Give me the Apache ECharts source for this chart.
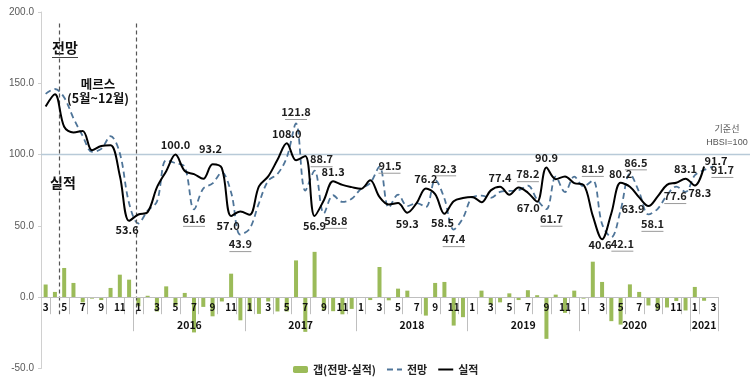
<!DOCTYPE html>
<html><head><meta charset="utf-8">
<script src="https://cdn.jsdelivr.net/npm/echarts@6/dist/echarts.min.js"></script>
<style>html,body{margin:0;padding:0;background:#fff}#c{width:750px;height:379px}</style>
</head><body><div id="c"></div>
<script>
const categories = ['2015-03','2015-04','2015-05','2015-06','2015-07','2015-08','2015-09','2015-10','2015-11','2015-12',
'2016-01','2016-02','2016-03','2016-04','2016-05','2016-06','2016-07','2016-08','2016-09','2016-10','2016-11','2016-12',
'2017-01','2017-02','2017-03','2017-04','2017-05','2017-06','2017-07','2017-08','2017-09','2017-10','2017-11','2017-12',
'2018-01','2018-02','2018-03','2018-04','2018-05','2018-06','2018-07','2018-08','2018-09','2018-10','2018-11','2018-12',
'2019-01','2019-02','2019-03','2019-04','2019-05','2019-06','2019-07','2019-08','2019-09','2019-10','2019-11','2019-12',
'2020-01','2020-02','2020-03','2020-04','2020-05','2020-06','2020-07','2020-08','2020-09','2020-10','2020-11','2020-12',
'2021-01','2021-02','2021-03'];
// 실적
const actual = [133.7,142.3,119.5,115.5,116.6,103.0,106.0,106.5,85.2,53.6,
58.0,59.7,77.0,88.4,100.0,88.5,86.3,83.0,93.2,90.5,57.0,60.1,
57.8,77.7,84.7,96.4,108.0,96.0,99.0,56.9,68.0,81.3,78.8,77.2,
76.0,82.0,70.3,65.0,66.0,59.3,66.0,76.2,72.3,58.5,67.3,69.5,
70.3,66.6,74.9,77.4,71.8,77.0,73.3,67.0,90.9,82.8,84.7,80.0,
78.8,57.0,40.6,58.9,80.2,77.5,70.0,63.9,70.7,78.8,80.3,83.1,
78.3,91.7,null];
// 전망
const forecast = [142.6,146.0,140.0,125.5,113.0,102.0,104.0,113.0,101.0,65.9,
51.7,60.7,67.0,96.0,94.0,91.5,61.6,76.2,79.8,87.5,73.5,43.9,
48.0,66.0,81.7,86.4,98.0,121.8,74.7,88.7,58.8,71.5,66.8,69.0,
76.0,80.0,91.5,62.8,72.0,63.9,66.0,63.3,82.3,69.2,47.4,55.5,
70.0,71.2,69.7,73.8,74.5,75.0,78.2,68.4,61.7,84.6,73.7,84.6,
77.8,81.9,51.3,42.1,61.0,86.5,73.7,58.1,62.0,71.6,77.6,73.8,
85.5,89.2,91.7];
// 갭(전망-실적)
const gap = [8.9,3.7,20.5,10.0,-3.6,-1.0,-2.0,6.5,15.8,12.3,
-6.3,1.0,-10.0,7.6,-6.0,3.0,-24.7,-6.8,-13.4,-3.0,16.5,-16.2,
-9.8,-11.7,-3.0,-10.0,-10.0,25.8,-24.3,31.8,-9.2,-9.8,-12.0,-8.2,
0.0,-2.0,21.2,-2.2,6.0,4.6,0.0,-12.9,10.0,10.7,-19.9,-14.0,
-0.3,4.6,-5.2,-3.6,2.7,-2.0,4.9,1.4,-29.2,1.8,-11.0,4.6,
-1.0,24.9,10.7,-16.8,-19.2,9.0,3.7,-5.8,-8.7,-7.2,-2.7,-9.3,
7.2,-2.5,null];
const yTicks = [-50, 0, 50, 100, 150, 200];
const baseline = 100;
const mersStart = '2015-05', mersEnd = '2016-01';

// label placement (index -> [position, offset])
const actualLabelPos = {9:['bottom',[-2,0]],14:['top',[0,0]],18:['top',[-2,-6]],20:['bottom',[-3,0]],26:['top',[0,0]],
 29:['bottom',[0,0]],31:['top',[0,0]],39:['bottom',[0,2]],41:['top',[0,0]],43:['bottom',[-2,0]],49:['top',[0,0]],
 53:['bottom',[-9,-3]],54:['top',[0,0]],60:['bottom',[-2,-4]],62:['top',[0,0]],65:['left',[0,3]],69:['top',[0,0]],
 70:['bottom',[5,-2]],71:['top',[12,4]]};
const forecastLabelPos = {16:['bottom',[0,0]],21:['bottom',[0,0]],27:['top',[0,0]],29:['top',[7,0]],30:['bottom',[12,-2]],
 36:['right',[-4,0]],42:['top',[10,0]],44:['bottom',[0,0]],52:['top',[0,0]],54:['bottom',[5,0]],59:['top',[0,0]],
 61:['bottom',[11,-3]],63:['top',[6,0]],65:['bottom',[4,0]],68:['bottom',[-1,0]],72:['bottom',[9,-6]]};

const yearOf = c => +c.slice(0,4), monthOf = c => +c.slice(5,7);
const yearBounds = [], yearCenters = [], yearNames = {};
categories.forEach((c,i)=>{ if (monthOf(c)===1) yearBounds.push(i); });
yearBounds.push(categories.length);
for (let k=0;k<yearBounds.length-1;k++){ const m=(yearBounds[k]+yearBounds[k+1])/2; yearCenters.push(m); yearNames[m]=yearOf(categories[yearBounds[k]]); }

const chart = echarts.init(document.getElementById('c'));
const lblFont = {fontFamily:'Noto Sans CJK KR, Noto Sans, sans-serif', fontWeight:'bold', fontSize:11, color:'#1a1a1a'};
function actualData(){
  return actual.map((v,i)=>{
    const p = actualLabelPos[i];
    if (!p || v==null) return v;
    return {value:v, symbol:'circle', symbolSize:0.01,
      label:{show:true, position:p[0], offset:p[1], distance:4, ...lblFont, formatter: d=>d.value.toFixed(1)}};
  });
}
function forecastData(){
  return forecast.map((v,i)=>{
    const p = forecastLabelPos[i];
    if (!p) return v;
    return {value:v, symbol:'circle', symbolSize:0.01,
      label:{show:true, position:p[0], offset:p[1], distance:3,
      formatter: d=>'{v|'+d.value.toFixed(1)+'}\n{l|}',
      rich:{v:{...lblFont, lineHeight:13, color:'#222'}, l:{width:22, height:1, lineHeight:2, backgroundColor:'#9a9a9a'}}}};
  });
}
const iS = categories.indexOf(mersStart), iE = categories.indexOf(mersEnd);
const gridBase = {top:12, bottom:10.5, containLabel:false, outerBoundsMode:'none'};
chart.setOption({
  animation:false,
  textStyle:{fontFamily:'Noto Sans CJK KR, Noto Sans, sans-serif'},
  grid:[{...gridBase, left:41, right:32},{...gridBase, left:41, right:0}],
  legend:{left:288, top:359, itemWidth:15, itemHeight:7, itemGap:10,
    textStyle:{fontSize:11, fontWeight:'bold', color:'#222'},
    data:['갭(전망-실적)',{name:'전망', itemStyle:{opacity:0}},{name:'실적', itemStyle:{opacity:0}}]},
  xAxis:[
    {type:'category', gridIndex:0, data:categories, boundaryGap:true, position:'bottom', z:10,
     axisLine:{onZero:false, lineStyle:{color:'#bfbfbf'}},
     axisTick:{show:true, interval:(i,c)=>monthOf(c)%2===0, length:17, lineStyle:{color:'#bfbfbf'}},
     axisLabel:{interval:0, margin:5, fontSize:10, fontWeight:'bold', color:'#111',
       formatter:(c)=>{const m=monthOf(c); return m%2===1? String(m):'';}}},
    {type:'value', gridIndex:0, min:0, max:categories.length, position:'bottom', z:10,
     axisLine:{show:false, onZero:false}, splitLine:{show:false},
     axisTick:{show:true, customValues:yearBounds, length:34, lineStyle:{color:'#bfbfbf'}},
     axisLabel:{customValues:yearCenters, margin:23, fontSize:10.5, fontWeight:'bold', color:'#111',
       formatter:(v)=>String(yearNames[v]||'')}},
    {type:'value', gridIndex:1, min:0, max:1, show:false}
  ],
  yAxis:[
    {type:'value', gridIndex:0, min:yTicks[0], max:yTicks[yTicks.length-1], interval:50,
     axisLine:{show:true, lineStyle:{color:'#d0d0d0'}}, axisTick:{show:true, length:3, lineStyle:{color:'#d0d0d0'}},
     splitLine:{show:false},
     axisLabel:{margin:7, fontSize:10, color:'#595959', fontFamily:'Liberation Sans, Arial, sans-serif', formatter:v=>v.toFixed(1)}},
    {type:'value', gridIndex:1, min:yTicks[0], max:yTicks[yTicks.length-1], show:false}
  ],
  series:[
    {name:'기준선', type:'line', xAxisIndex:2, yAxisIndex:1, data:[[0,baseline],[1,baseline]], symbol:'none', silent:true,
     lineStyle:{color:'#b8cad8', width:1.5}, z:1},
    {name:'갭(전망-실적)', type:'bar', xAxisIndex:0, yAxisIndex:0, data:gap, barWidth:4, itemStyle:{color:'#9bbb59'}, z:2},
    {name:'전망', type:'line', xAxisIndex:0, yAxisIndex:0, data:forecastData(), smooth:0.35, symbol:'none', showSymbol:true,
     lineStyle:{color:'#4f7599', width:1.8, type:[6,4]}, itemStyle:{color:'#4f7599'}, z:4},
    {name:'실적', type:'line', xAxisIndex:0, yAxisIndex:0, data:actualData(), smooth:0.35, symbol:'none', showSymbol:true,
     lineStyle:{color:'#000', width:2}, itemStyle:{color:'#000'}, z:5},
    {name:'marks', type:'line', xAxisIndex:1, yAxisIndex:0, data:[], silent:true,
     markLine:{symbol:'none', silent:true, label:{show:false}, lineStyle:{color:'#555', type:[4,3], width:1.2},
       data:[[{coord:[iS,192]},{coord:[iS,-12]}],[{coord:[iE+0.3,192]},{coord:[iE+0.3,-12]}]]}}
  ],
  graphic:[
    {type:'text', left:52, top:41, style:{text:'전망', font:'bold 14px "Noto Sans CJK KR"', fill:'#111'}},
    {type:'rect', left:52, top:57, shape:{width:26,height:1}, style:{fill:'#444'}},
    {type:'text', x:98, y:84, style:{text:'메르스', font:'bold 12.5px "Noto Sans CJK KR"', fill:'#111', align:'center', verticalAlign:'middle'}},
    {type:'text', x:98, y:98, style:{text:'(5월~12월)', font:'bold 12.5px "Noto Sans CJK KR"', fill:'#111', align:'center', verticalAlign:'middle'}},
    {type:'text', x:63, y:183, style:{text:'실적', font:'bold 14px "Noto Sans CJK KR"', fill:'#111', align:'center', verticalAlign:'middle'}},
    {type:'text', x:727, y:129, style:{text:'기준선', font:'9px "Noto Sans CJK KR"', fill:'#555', align:'center', verticalAlign:'middle'}},
    {type:'text', x:727, y:143, style:{text:'HBSI=100', font:'9px "Liberation Sans"', fill:'#555', align:'center', verticalAlign:'middle'}}
  ]
});
// move both x axes up to the zero line of the value axis
const zeroY = chart.convertToPixel({yAxisIndex:0}, 0);
const bottomY = chart.convertToPixel({yAxisIndex:0}, yTicks[0]);
chart.setOption({xAxis:[{offset: zeroY - bottomY},{offset: zeroY - bottomY},{}]});
</script></body></html>
